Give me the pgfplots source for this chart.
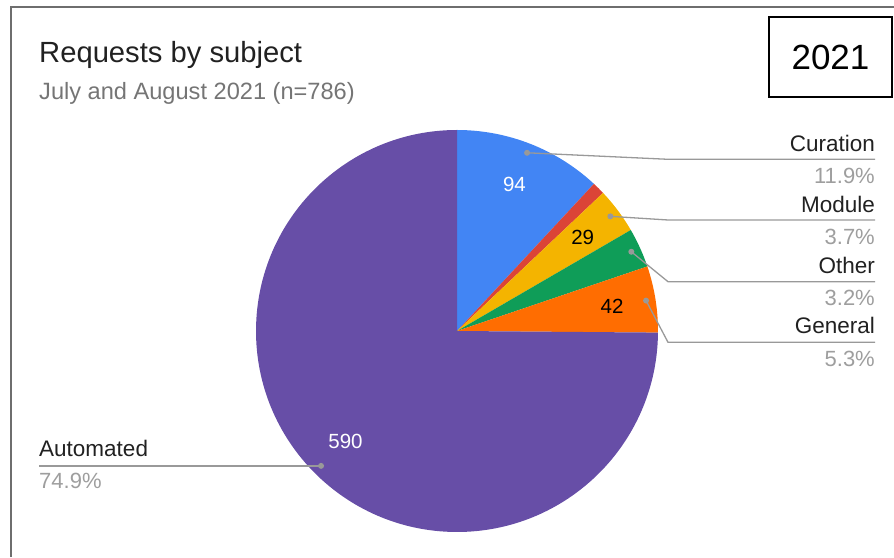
\documentclass[border=0pt]{standalone}
\usepackage{pgfplots}
\pgfplotsset{compat=1.18}
\usepackage{pgfplotstable}
\usepackage{fontspec}
\setmainfont{Liberation Sans}

\definecolor{slice0}{HTML}{4285F4}% Curation
\definecolor{slice1}{HTML}{DB4437}% (unlabelled)
\definecolor{slice2}{HTML}{F4B400}% Module
\definecolor{slice3}{HTML}{0F9D58}% Other
\definecolor{slice4}{HTML}{FF6D01}% General
\definecolor{slice5}{HTML}{674EA7}% Automated
\definecolor{cText}{HTML}{212121}
\definecolor{cSub}{HTML}{757575}
\definecolor{cPct}{HTML}{9E9E9E}
\definecolor{cLead}{HTML}{999999}
\definecolor{cFrame}{HTML}{6E6E6E}

\newcommand\titlefont{\fontsize{29.2}{31}\selectfont}
\newcommand\subfont{\fontsize{23.6}{25}\selectfont}
\newcommand\labfont{\fontsize{22.5}{24}\selectfont}
\newcommand\pctfont{\fontsize{22}{24}\selectfont}
\newcommand\valfont{\fontsize{20.5}{22}\selectfont}

% requests per subject, clockwise from 12 o'clock
\pgfplotstableread{
label value tcol
Curation 94 white
Unlabelled 8 white
Module 29 black
Other 25 black
General 42 black
Automated 590 white
}\piedata

\pgfplotstablegetrowsof{\piedata}
\pgfmathtruncatemacro\nlast{\pgfplotsretval-1}
\def\total{0}
\pgfplotsforeachungrouped \i in {0,...,\nlast}{%
  \pgfplotstablegetelem{\i}{value}\of\piedata
  \pgfmathsetmacro\total{\total+\pgfplotsretval}%
}
\def\cum{0}
\pgfplotsforeachungrouped \i in {0,...,\nlast}{%
  \pgfplotstablegetelem{\i}{value}\of\piedata
  \let\curval\pgfplotsretval
  \expandafter\xdef\csname val\i\endcsname{\curval}%
  \pgfplotstablegetelem{\i}{tcol}\of\piedata
  \expandafter\xdef\csname tc\i\endcsname{\pgfplotsretval}%
  \pgfmathsetmacro\sa{90-360*(\cum/\total)}%
  \pgfmathsetmacro\cum{\cum+\curval}%
  \pgfmathsetmacro\sb{90-360*(\cum/\total)}%
  \pgfmathsetmacro\sm{(\sa+\sb)/2}%
  \expandafter\xdef\csname sA\i\endcsname{\sa}%
  \expandafter\xdef\csname sB\i\endcsname{\sb}%
  \expandafter\xdef\csname mid\i\endcsname{\sm}%
}

\def\cx{457}\def\cy{226}\def\R{201}

\newcommand\slice[1]{\edef\tmp{\noexpand\fill[slice#1] (axis cs:\cx,\cy) -- ++(\csname sA#1\endcsname:\R pt)
  arc[start angle=\csname sA#1\endcsname,end angle=\csname sB#1\endcsname,radius=\R pt] -- cycle;}\tmp}
\newcommand\vlab[1]{\edef\tmp{\noexpand\path (axis cs:\cx,\cy) ++(\csname mid#1\endcsname:157pt)
  node[text=\csname tc#1\endcsname,font=\noexpand\valfont] {\csname val#1\endcsname};}\tmp}
% leader: index, knee x, knee y
\newcommand\leader[3]{\edef\tmp{\noexpand\draw[cLead,line width=1.3pt] (axis cs:\cx,\cy) ++(\csname mid#1\endcsname:191.5pt)
  -- (axis cs:#2,#3) -- (axis cs:875,#3);
  \noexpand\fill[cLead] (axis cs:\cx,\cy) ++(\csname mid#1\endcsname:191.5pt) circle[radius=3pt];}\tmp}

\begin{document}
\begin{tikzpicture}
\begin{axis}[at={(0,0)},anchor=south west,scale only axis,
  width=894pt,height=557pt,xmin=0,xmax=894,ymin=0,ymax=557,
  hide axis,clip=false]
\pgfplotsinvokeforeach{0,...,5}{\slice{#1}}
\vlab{0}\vlab{2}\vlab{4}\vlab{5}

\leader{0}{668}{397.7}
\leader{2}{668}{337}
\leader{3}{668}{275.3}
\leader{4}{668}{214.7}
\edef\tmp{\noexpand\path (axis cs:\cx,\cy) ++(\csname mid5\endcsname:191.5pt) coordinate (d5);}\tmp
\draw[cLead,line width=1.3pt] (d5) -- (d5 -| 39pt,0pt);
\fill[cLead] (d5) circle[radius=3pt];

\begin{scope}[every node/.style={inner xsep=0pt}]
\node[anchor=base east,font=\labfont,text=cText] at (axis cs:875,405) {Curation};
\node[anchor=base east,font=\pctfont,text=cPct] at (axis cs:875,373.7) {11.9\%};
\node[anchor=base east,font=\labfont,text=cText] at (axis cs:875,344.7) {Module};
\node[anchor=base east,font=\pctfont,text=cPct] at (axis cs:875,312) {3.7\%};
\node[anchor=base east,font=\labfont,text=cText] at (axis cs:875,283.7) {Other};
\node[anchor=base east,font=\pctfont,text=cPct] at (axis cs:875,251.3) {3.2\%};
\node[anchor=base east,font=\labfont,text=cText] at (axis cs:875,223.7) {General};
\node[anchor=base east,font=\pctfont,text=cPct] at (axis cs:875,190.3) {5.3\%};
\node[anchor=base west,font=\labfont,text=cText] at (axis cs:39,100.3) {Automated};
\node[anchor=base west,font=\pctfont,text=cPct] at (axis cs:39,68) {74.9\%};

\node[anchor=base west,font=\titlefont,text=cText] at (axis cs:39,494) {Requests by subject};
\node[anchor=base west,font=\subfont,text=cSub] at (axis cs:39,457.5) {July and August 2021 (n=786)};
\end{scope}

\draw[cFrame,line width=2pt] (axis cs:11,0) -- (axis cs:11,550) -- (axis cs:894,550);
\draw[line width=1.5pt] (axis cs:769,460) rectangle (axis cs:892,540);
\node[font=\fontsize{35}{36}\selectfont] at (axis cs:830.5,500) {2021};
\end{axis}
\pgfresetboundingbox
\path[use as bounding box] (0,0) rectangle (894pt,557pt);
\end{tikzpicture}
\end{document}
